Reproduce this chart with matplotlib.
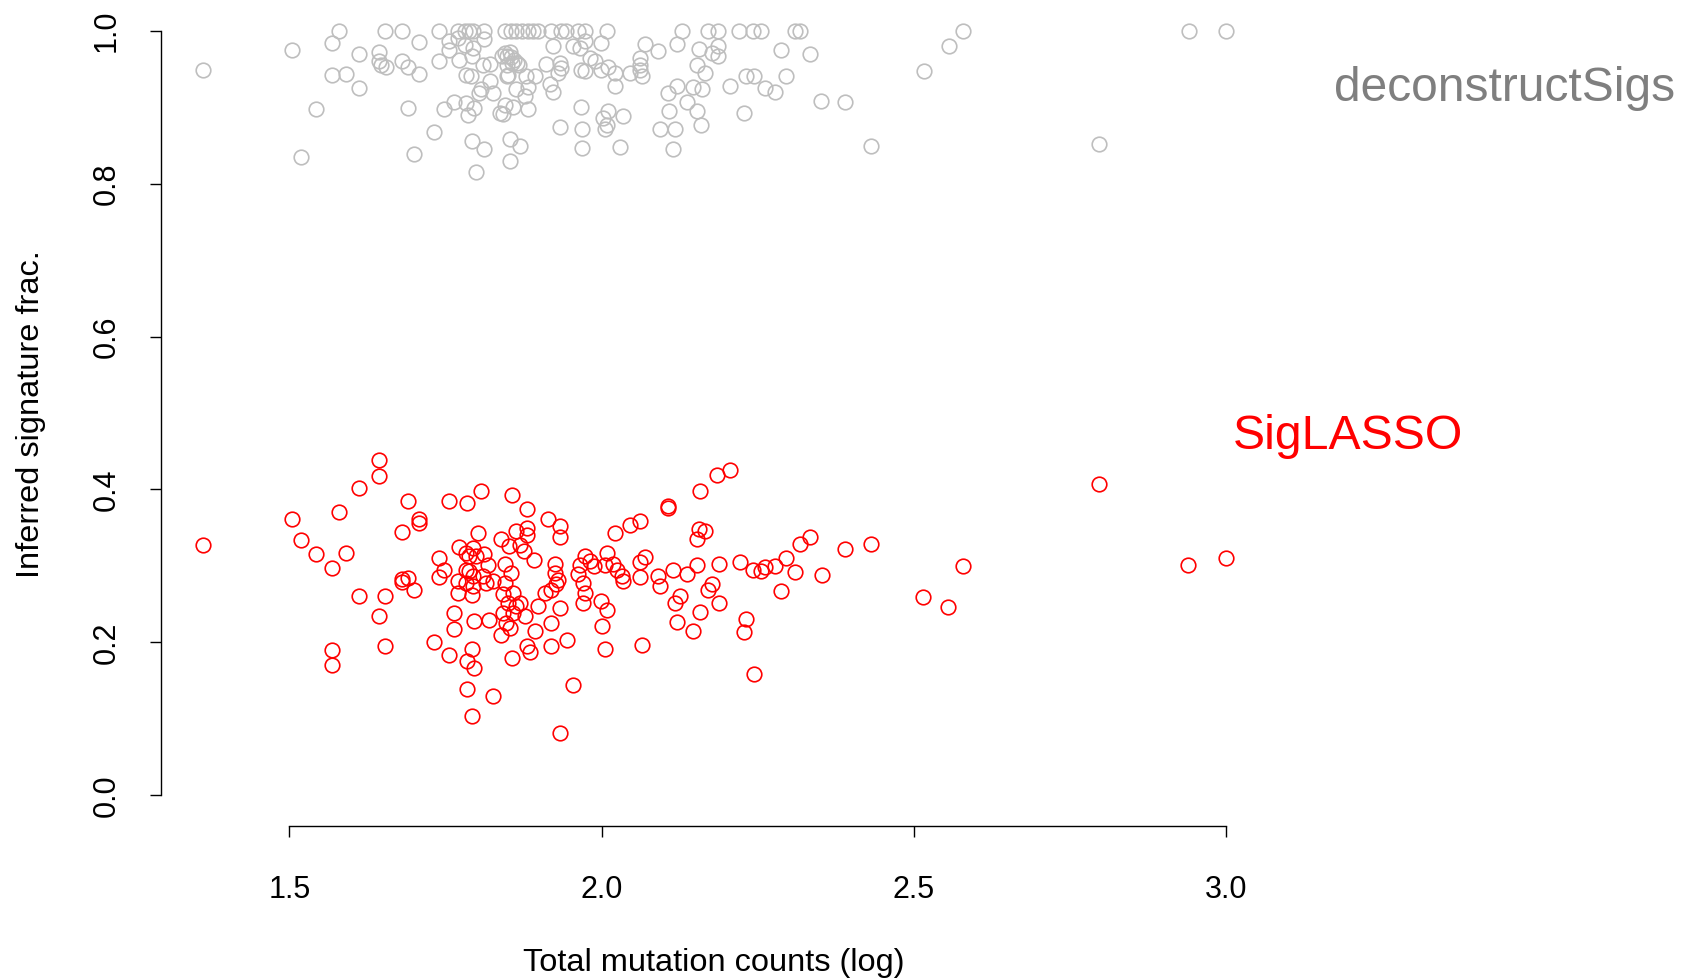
import matplotlib
matplotlib.use("Agg")
import matplotlib.pyplot as plt

# deconstructSigs (grey) and SigLASSO (red) inferred fractions vs log10 mutation counts
gray_x = [1.361, 1.504, 1.543, 1.518, 1.580, 1.568, 1.612, 1.568, 1.591, 1.612,
          1.653, 1.680, 1.643, 1.643, 1.647, 1.655, 1.680, 1.690, 1.707, 1.707,
          1.690, 1.699, 1.732, 1.739, 1.739, 1.748, 1.763, 1.755, 1.755, 1.770,
          1.770, 1.782, 1.788, 1.794, 1.812, 1.771, 1.782, 1.794, 1.812, 1.793,
          1.783, 1.791, 1.810, 1.821, 1.807, 1.804, 1.826, 1.821, 1.783, 1.796,
          1.786, 1.793, 1.812, 1.799, 1.837, 1.845, 1.840, 1.845, 1.848, 1.848,
          1.845, 1.853, 1.853, 1.855, 1.863, 1.873, 1.882, 1.890, 1.898, 1.919,
          1.935, 1.943, 1.962, 1.973, 2.008, 2.128, 2.170, 2.186, 2.220, 2.242,
          2.256, 2.309, 2.317, 1.853, 1.849, 1.855, 1.860, 1.865, 1.857, 1.868,
          1.922, 1.954, 1.965, 1.973, 1.999, 1.981, 1.989, 1.911, 1.933, 1.935,
          1.930, 1.967, 1.973, 1.999, 2.010, 2.021, 2.045, 2.061, 2.061, 2.061,
          2.065, 2.069, 2.090, 2.120, 2.156, 2.176, 2.186, 2.186, 2.152, 2.165,
          2.288, 2.333, 1.850, 1.879, 1.893, 1.863, 1.882, 1.877, 1.882, 1.858,
          1.842, 1.917, 1.922, 1.967, 1.934, 1.969, 1.969, 2.002, 2.010, 2.034,
          2.008, 2.005, 2.029, 2.021, 1.869, 2.106, 2.120, 2.108, 2.093, 2.117,
          2.114, 2.136, 2.146, 2.160, 2.153, 2.159, 2.205, 2.232, 2.244, 2.261,
          2.277, 2.295, 2.228, 2.352, 2.579, 2.556, 2.516, 2.389, 2.432, 2.797,
          2.940, 3.000]
gray_y = [0.948, 0.974, 0.897, 0.835, 1.000, 0.984, 0.969, 0.942, 0.943, 0.925,
          1.000, 1.000, 0.972, 0.960, 0.955, 0.953, 0.960, 0.952, 0.943, 0.985,
          0.899, 0.839, 0.867, 1.000, 0.960, 0.897, 0.907, 0.986, 0.975, 0.990,
          1.000, 1.000, 1.000, 1.000, 1.000, 0.962, 0.981, 0.977, 0.989, 0.967,
          0.942, 0.941, 0.955, 0.956, 0.923, 0.918, 0.918, 0.934, 0.905, 0.899,
          0.890, 0.856, 0.845, 0.815, 0.892, 0.903, 0.967, 0.971, 0.955, 0.940,
          1.000, 0.858, 0.829, 1.000, 1.000, 1.000, 1.000, 1.000, 1.000, 1.000,
          1.000, 1.000, 1.000, 1.000, 1.000, 1.000, 1.000, 1.000, 1.000, 1.000,
          1.000, 1.000, 1.000, 0.972, 0.967, 0.965, 0.962, 0.958, 0.957, 0.955,
          0.980, 0.980, 0.977, 0.986, 0.984, 0.964, 0.960, 0.956, 0.958, 0.951,
          0.944, 0.949, 0.947, 0.949, 0.952, 0.944, 0.944, 0.964, 0.955, 0.949,
          0.940, 0.983, 0.973, 0.982, 0.976, 0.971, 0.980, 0.967, 0.955, 0.945,
          0.974, 0.969, 0.942, 0.941, 0.941, 0.923, 0.926, 0.915, 0.897, 0.900,
          0.891, 0.930, 0.920, 0.900, 0.874, 0.871, 0.847, 0.886, 0.895, 0.888,
          0.877, 0.871, 0.848, 0.928, 0.849, 0.919, 0.928, 0.895, 0.871, 0.871,
          0.845, 0.906, 0.926, 0.923, 0.895, 0.877, 0.927, 0.940, 0.941, 0.925,
          0.920, 0.941, 0.892, 0.908, 1.000, 0.980, 0.947, 0.907, 0.849, 0.852,
          1.000, 1.000]

red_x = [1.361, 1.504, 1.518, 1.543, 1.568, 1.568, 1.568, 1.579, 1.591, 1.612,
         1.612, 1.643, 1.643, 1.643, 1.653, 1.653, 1.690, 1.681, 1.707, 1.707,
         1.681, 1.681, 1.690, 1.699, 1.732, 1.740, 1.748, 1.740, 1.755, 1.755,
         1.763, 1.763, 1.771, 1.770, 1.770, 1.785, 1.785, 1.792, 1.792, 1.785,
         1.796, 1.783, 1.794, 1.788, 1.783, 1.788, 1.783, 1.794, 1.792, 1.796,
         1.802, 1.807, 1.857, 1.881, 1.914, 1.934, 1.934, 1.839, 1.851, 1.863,
         1.881, 1.881, 1.869, 1.875, 1.892, 1.799, 1.812, 1.818, 1.794, 1.810,
         1.826, 1.815, 1.845, 1.855, 1.845, 1.842, 1.858, 1.850, 1.863, 1.869,
         1.858, 1.842, 1.847, 1.877, 1.853, 1.839, 1.898, 1.819, 1.893, 1.919,
         1.934, 1.881, 1.886, 1.857, 1.919, 1.944, 1.826, 1.954, 1.934, 1.925,
         1.925, 1.930, 1.927, 1.919, 1.909, 1.973, 1.965, 1.981, 1.962, 1.970,
         1.973, 1.970, 1.988, 1.999, 2.008, 2.000, 2.005, 2.008, 2.005, 2.018,
         2.021, 2.045, 2.061, 2.024, 2.032, 2.034, 2.061, 2.069, 2.061, 2.065,
         2.090, 2.093, 2.107, 2.107, 2.114, 2.117, 2.125, 2.121, 2.136, 2.205,
         2.185, 2.158, 2.156, 2.165, 2.152, 2.152, 2.188, 2.221, 2.242, 2.256,
         2.262, 2.277, 2.295, 2.309, 2.318, 2.333, 2.353, 2.389, 2.432, 2.288,
         2.176, 2.171, 2.188, 2.158, 2.146, 2.231, 2.228, 2.244, 2.515, 2.555,
         2.578, 2.796, 2.939, 3.000]
red_y = [0.328, 0.361, 0.334, 0.316, 0.297, 0.190, 0.171, 0.370, 0.317, 0.402,
         0.261, 0.439, 0.417, 0.234, 0.261, 0.196, 0.385, 0.344, 0.362, 0.356,
         0.283, 0.279, 0.284, 0.269, 0.200, 0.310, 0.295, 0.285, 0.385, 0.184,
         0.239, 0.217, 0.325, 0.280, 0.264, 0.382, 0.139, 0.104, 0.191, 0.176,
         0.166, 0.317, 0.324, 0.313, 0.295, 0.293, 0.278, 0.274, 0.262, 0.228,
         0.343, 0.398, 0.393, 0.374, 0.361, 0.352, 0.338, 0.335, 0.326, 0.346,
         0.349, 0.340, 0.328, 0.320, 0.308, 0.313, 0.315, 0.301, 0.287, 0.287,
         0.280, 0.278, 0.302, 0.291, 0.278, 0.263, 0.265, 0.252, 0.248, 0.252,
         0.239, 0.239, 0.226, 0.234, 0.219, 0.210, 0.248, 0.229, 0.215, 0.225,
         0.245, 0.195, 0.187, 0.180, 0.195, 0.203, 0.130, 0.145, 0.081, 0.302,
         0.291, 0.282, 0.276, 0.269, 0.265, 0.313, 0.301, 0.307, 0.289, 0.278,
         0.265, 0.252, 0.300, 0.254, 0.242, 0.222, 0.192, 0.317, 0.301, 0.302,
         0.343, 0.353, 0.359, 0.295, 0.287, 0.280, 0.305, 0.312, 0.285, 0.197,
         0.287, 0.274, 0.379, 0.376, 0.295, 0.252, 0.261, 0.227, 0.289, 0.425,
         0.419, 0.398, 0.348, 0.346, 0.335, 0.301, 0.303, 0.305, 0.295, 0.293,
         0.298, 0.300, 0.310, 0.292, 0.329, 0.338, 0.288, 0.322, 0.329, 0.267,
         0.276, 0.268, 0.251, 0.240, 0.215, 0.231, 0.214, 0.159, 0.260, 0.246,
         0.300, 0.407, 0.301, 0.311]

x_ticks = [1.5, 2.0, 2.5, 3.0]
y_ticks = [0.0, 0.2, 0.4, 0.6, 0.8, 1.0]

plt.rcParams['font.family'] = ['Liberation Sans', 'DejaVu Sans']

W, H = 1685, 980
fig = plt.figure(figsize=(W / 100, H / 100), dpi=100)
ax = fig.add_axes([161 / W, 1 - 826 / H, (1267 - 161) / W, 826 / H])

ax.plot(gray_x, gray_y, linestyle='none', marker='o', markersize=10.5,
        markerfacecolor='none', markeredgecolor='#BEBEBE', markeredgewidth=1.2)
ax.plot(red_x, red_y, linestyle='none', marker='o', markersize=10.5,
        markerfacecolor='none', markeredgecolor='#FF0000', markeredgewidth=1.2)

ax.set_xlim(1.2944, 3.0656)
ax.set_ylim(-0.04, 1.04)

for side in ['top', 'right']:
    ax.spines[side].set_visible(False)
ax.spines['left'].set_bounds(0, 1)
ax.spines['bottom'].set_bounds(1.5, 3.0)
for side in ['left', 'bottom']:
    ax.spines[side].set_linewidth(1.0)

ax.set_xticks(x_ticks)
ax.set_xticklabels([f'{t:.1f}' for t in x_ticks], fontsize=22)
ax.set_yticks(y_ticks)
ax.set_yticklabels([f'{t:.1f}' for t in y_ticks], fontsize=22, rotation=90, va='center')
ax.tick_params(axis='both', direction='out', length=8, width=1.0)
ax.tick_params(axis='y', pad=20)
ax.tick_params(axis='x', pad=27)

fig.text(714 / W, 1 - 963 / H, 'Total mutation counts (log)', fontsize=23.4,
         ha='center', va='center')
fig.text(31 / W, 1 - 414 / H, 'Inferred signature frac.', fontsize=23.4,
         rotation=90, ha='center', va='center')

ax.text(3.173, 0.924, 'deconstructSigs', color='#7F7F7F', fontsize=34.5,
        ha='left', va='center', clip_on=False)
ax.text(3.011, 0.469, 'SigLASSO', color='#FF0000', fontsize=34.7,
        ha='left', va='center', clip_on=False)

fig.savefig('out.png', dpi=100)
